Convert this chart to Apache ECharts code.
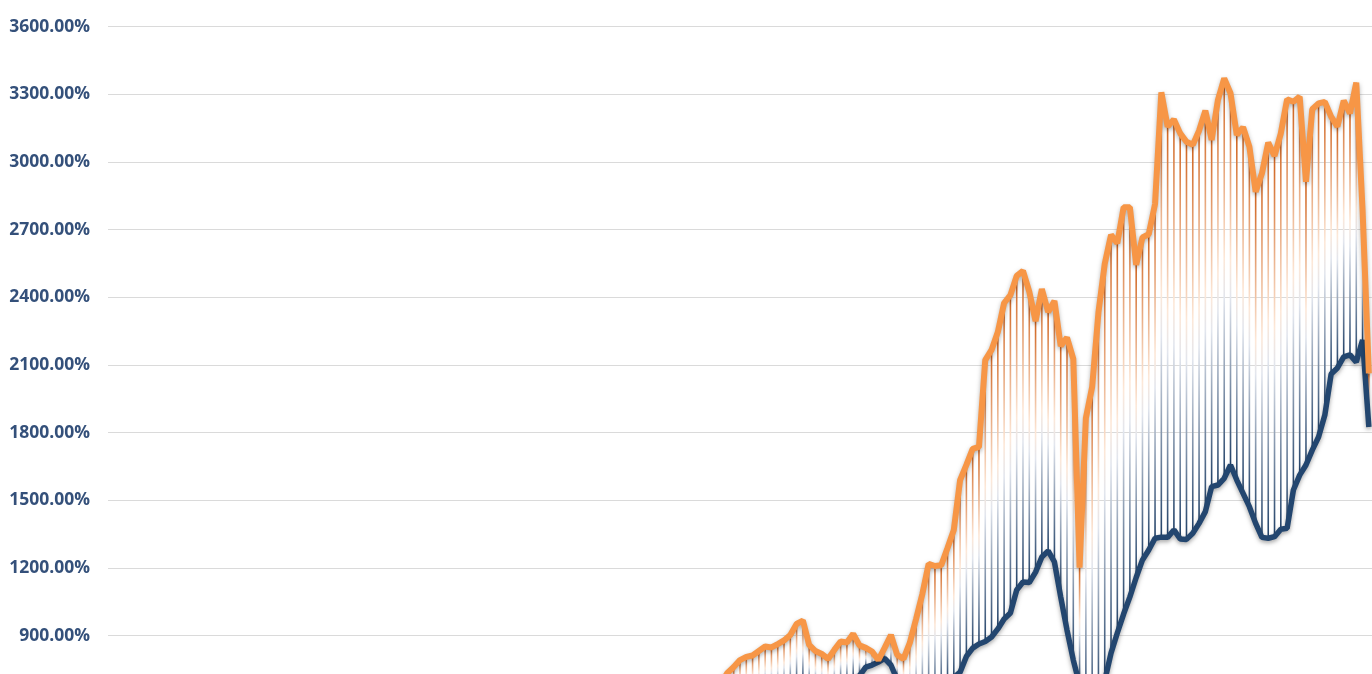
<!DOCTYPE html>
<html>
<head>
<meta charset="utf-8">
<script src="https://cdn.jsdelivr.net/npm/echarts@6/dist/echarts.min.js"></script>
<style>
  html, body { margin: 0; padding: 0; background: #fff; }
  #chart { width: 1372px; height: 674px; }
</style>
</head>
<body>
<div id="chart"></div>
<script>
// y axis ticks
const yMin = 0;
const yMax = 3600;
const yStep = 300;

// x positions: 201 periods, only the later part is inside the picture
const categories = Array.from({ length: 201 }, (_, i) => String(i + 1));
const startIndex = 96; // first period with a value given below

// orange line (top), % values from period 97 on
const orangeVals = [
  660, 690, 735, 761, 792, 806, 812, 832, 852, 848,
  863, 879, 903, 952, 967, 859, 832, 819, 797, 837,
  874, 870, 908, 857, 846, 830, 792, 846, 903, 815,
  797, 868, 974, 1085, 1218, 1209, 1212, 1289, 1369, 1590,
  1657, 1728, 1737, 2122, 2167, 2246, 2375, 2410, 2495, 2517,
  2425, 2295, 2437, 2335, 2384, 2184, 2222, 2127, 1202, 1865,
  2003, 2333, 2548, 2677, 2640, 2799, 2799, 2544, 2666, 2680,
  2814, 3309, 3157, 3189, 3127, 3090, 3076, 3139, 3228, 3098,
  3275, 3371, 3305, 3120, 3154, 3068, 2868, 2950, 3086, 3027,
  3127, 3278, 3267, 3290, 2913, 3234, 3260, 3267, 3201, 3157,
  3272, 3216, 3352, 2787, 2063
];

// navy line (bottom)
const navyVals = [
  560, 575, 590, 600, 610, 620, 615, 630, 640, 645,
  650, 660, 675, 690, 700, 680, 670, 665, 660, 675,
  690, 700, 712, 722, 761, 770, 783, 799, 770, 705,
  660, 625, 605, 600, 610, 630, 660, 690, 715, 738,
  808, 845, 863, 874, 894, 930, 974, 1001, 1103, 1138,
  1136, 1182, 1249, 1276, 1227, 1072, 925, 792, 683, 595,
  555, 600, 700, 823, 912, 996, 1072, 1158, 1236, 1280,
  1332, 1337, 1336, 1369, 1329, 1327, 1354, 1398, 1450, 1561,
  1568, 1598, 1657, 1590, 1531, 1472, 1398, 1336, 1332, 1339,
  1372, 1376, 1546, 1612, 1657, 1723, 1781, 1878, 2060, 2087,
  2136, 2145, 2113, 2211, 1825
];

const pad = new Array(startIndex).fill(null);
const orangeData = pad.concat(orangeVals);
const navyData = pad.concat(navyVals);

// high-low lines between the two series
const spanData = [];
for (let i = 0; i < orangeVals.length; i++) {
  spanData.push([startIndex + i, orangeVals[i], navyVals[i]]);
}

const spanStops = [
  { offset: 0, color: '#d0641f' },
  { offset: 0.45, color: '#fde8d8' },
  { offset: 0.55, color: '#e2e6ee' },
  { offset: 1, color: '#1f3f66' }
];

var myChart = echarts.init(document.getElementById('chart'));

var option = {
  animation: false,
  backgroundColor: '#ffffff',
  grid: {
    left: 108,
    right: 0,
    top: 26.7,
    bottom: -164.7,
    containLabel: false,
    outerBoundsMode: 'none'
  },
  xAxis: {
    type: 'category',
    data: categories,
    boundaryGap: true,
    show: false
  },
  yAxis: {
    type: 'value',
    min: yMin,
    max: yMax,
    interval: yStep,
    axisLine: { show: false },
    axisTick: { show: false },
    splitLine: { lineStyle: { color: '#dadada', width: 1.2 } },
    axisLabel: {
      margin: 18,
      color: '#34507a',
      fontFamily: 'Open Sans',
      fontWeight: 'bold',
      fontSize: 17.5,
      formatter: function (v) { return v.toFixed(2) + '%'; }
    }
  },
  series: [
    {
      type: 'custom',
      z: 1,
      data: spanData,
      renderItem: function (params, api) {
        var top = api.coord([api.value(0), api.value(1)]);
        var bot = api.coord([api.value(0), api.value(2)]);
        return {
          type: 'line',
          shape: { x1: top[0], y1: top[1], x2: bot[0], y2: bot[1] },
          style: {
            stroke: new echarts.graphic.LinearGradient(top[0], top[1], bot[0], bot[1], spanStops, true),
            lineWidth: 1.6
          }
        };
      }
    },
    {
      type: 'line',
      z: 3,
      data: navyData,
      showSymbol: false,
      lineStyle: {
        color: '#23466f',
        width: 5.5,
        shadowColor: 'rgba(0,0,0,0.35)',
        shadowBlur: 4,
        shadowOffsetY: 2
      }
    },
    {
      type: 'line',
      z: 4,
      data: orangeData,
      showSymbol: false,
      lineStyle: {
        color: '#f79646',
        width: 6,
        shadowColor: 'rgba(0,0,0,0.3)',
        shadowBlur: 4,
        shadowOffsetY: 2
      }
    }
  ]
};

myChart.setOption(option);
</script>
</body>
</html>
